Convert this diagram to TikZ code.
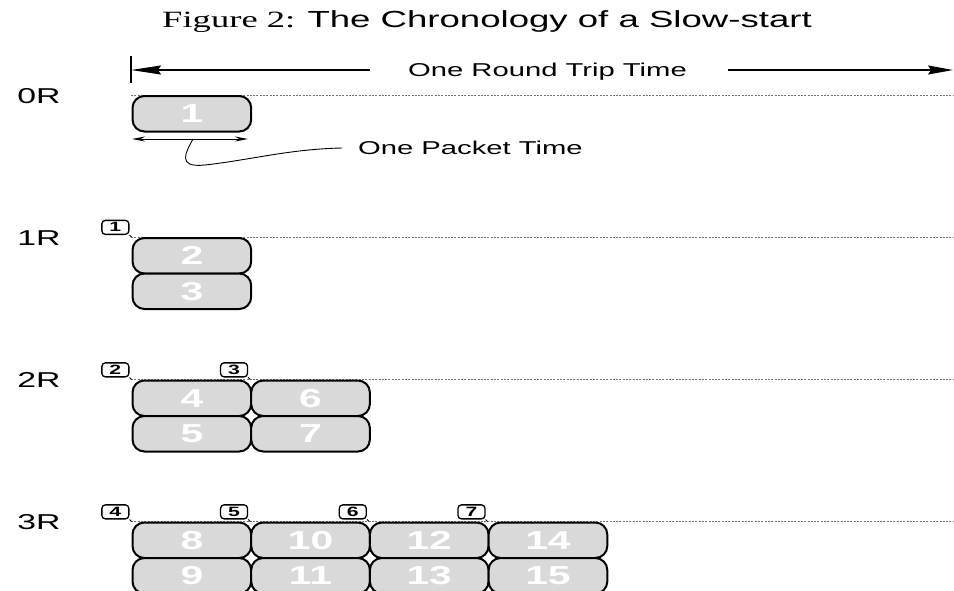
\documentclass[tikz,border=0pt]{standalone}
\usepackage{fontspec}
\usetikzlibrary{arrows.meta}
\newfontfamily\wsans[FakeStretch=1.57]{Liberation Sans}
\newfontfamily\wserif[FakeStretch=1.57]{Liberation Serif}
\definecolor{pktgray}{RGB}{217,217,217}
\tikzset{
  pkt/.style={draw=black, line width=2pt, fill=pktgray, rounded corners=12pt,
    minimum width=118.7pt, minimum height=35.5pt, inner sep=0pt, anchor=north west,
    text=white, font=\wsans\bfseries\fontsize{26}{26}\selectfont},
  ack/.style={draw=black, line width=1.3pt, fill=white, rounded corners=3.5pt,
    minimum width=27pt, minimum height=14pt, inner sep=0pt, anchor=south east,
    font=\wsans\bfseries\fontsize{13.5}{14}\selectfont},
  rowlab/.style={anchor=base, inner sep=0pt, font=\wsans\fontsize{21.5}{22}\selectfont},
  lab/.style={anchor=base, inner sep=0pt, font=\wsans\fontsize{18.6}{20}\selectfont},
  dotline/.style={draw=black!55, line width=0.8pt, dash pattern=on 2pt off 1.3pt},
  tail/.style={draw=black, line width=0.9pt},
}
\begin{document}
\begin{tikzpicture}[x=1pt,y=-1pt]
\useasboundingbox (0,0) rectangle (954,590);
% title
\node[anchor=base, inner sep=0pt] (title) at (487,27)
  {{\wserif\fontsize{23.3}{24}\selectfont Figure 2: }{\wsans\fontsize{23.3}{24}\selectfont The Chronology of a Slow-start}};
% round trip time
\coordinate (bt) at (131,56);
\coordinate (bb) at (131,83);
\coordinate (rtl) at (131,70);
\coordinate (rta) at (370,70);
\coordinate (rtb) at (728,70);
\coordinate (rtr) at (953,70);
\draw[line width=1.2pt] (bt) -- (bb);
\draw[line width=1.4pt, {Stealth[length=30pt,width=9pt,inset=3pt]}-] (rtl) -- (rta);
\draw[line width=1.4pt, -{Stealth[length=25pt,width=9pt,inset=3pt]}] (rtb) -- (rtr);
\node[lab] (rt) at (547.5,76.7) {One Round Trip Time};
% dotted lines
\draw[dotline] (131,95) -- (954,95);
\draw[dotline] (131,237) -- (954,237);
\draw[dotline] (131,379.5) -- (954,379.5);
\draw[dotline] (131,521.5) -- (954,521.5);
% row labels
\node[rowlab] (l0) at (39,103) {0R};
\node[rowlab] (l1) at (39,245) {1R};
\node[rowlab] (l2) at (39,387.5) {2R};
\node[rowlab] (l3) at (39,529) {3R};
% row 0
\node[pkt] (p1) at (131.5,95) {1};
% packet time
\coordinate (pa) at (132,139);
\coordinate (pb) at (248,139);
\draw[line width=0.9pt, {Stealth[length=13pt,width=5pt]}-{Stealth[length=13pt,width=5pt]}] (pa) -- (pb);
\node[lab, anchor=base west] (pt) at (358,154) {One Packet Time};
\coordinate (pc) at (193,139);
\coordinate (pe) at (342,148);
\draw[line width=0.9pt] (pc) .. controls (186,152) and (176,168) .. (205,165) .. controls (250,160) and (290,149) .. (pe);
% row 1
\node[pkt] (p2) at (131.5,237) {2};
\node[pkt] (p3) at (131.5,272.5) {3};
\node[ack] (s1) at (129.5,235) {1};
\draw[tail] (s1.south east) -- (p2.north west);
% row 2
\node[pkt] (p4) at (131.5,379.5) {4};
\node[pkt] (p5) at (131.5,415) {5};
\node[pkt] (p6) at (250.2,379.5) {6};
\node[pkt] (p7) at (250.2,415) {7};
\node[ack] (s2) at (129.5,377.5) {2};
\node[ack] (s3) at (248.2,377.5) {3};
\draw[tail] (s2.south east) -- (p4.north west);
\draw[tail] (s3.south east) -- (p6.north west);
% row 3
\node[pkt] (p8) at (131.5,521.5) {8};
\node[pkt] (p9) at (131.5,557) {9};
\node[pkt] (p10) at (250.2,521.5) {10};
\node[pkt] (p11) at (250.2,557) {11};
\node[pkt] (p12) at (368.9,521.5) {12};
\node[pkt] (p13) at (368.9,557) {13};
\node[pkt] (p14) at (487.6,521.5) {14};
\node[pkt] (p15) at (487.6,557) {15};
\node[ack] (s4) at (129.5,519.5) {4};
\node[ack] (s5) at (248.2,519.5) {5};
\node[ack] (s6) at (366.9,519.5) {6};
\node[ack] (s7) at (485.6,519.5) {7};
\draw[tail] (s4.south east) -- (p8.north west);
\draw[tail] (s5.south east) -- (p10.north west);
\draw[tail] (s6.south east) -- (p12.north west);
\draw[tail] (s7.south east) -- (p14.north west);
\end{tikzpicture}
\end{document}
